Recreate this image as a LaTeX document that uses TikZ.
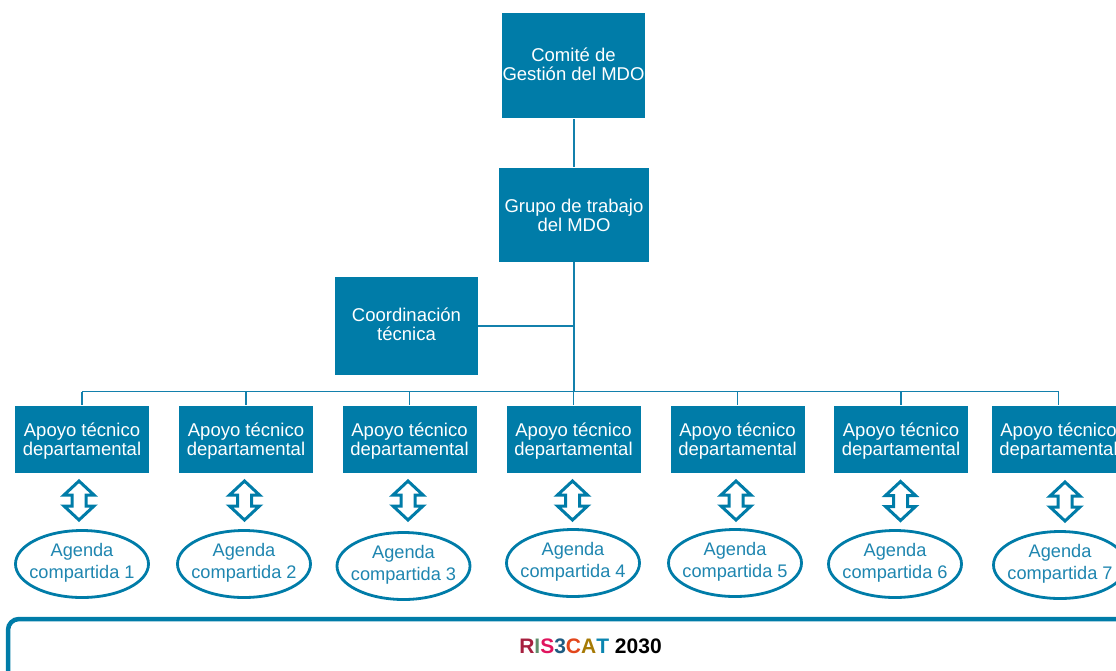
\documentclass[tikz,border=0pt]{standalone}
\usepackage{fontspec}
\setmainfont{Liberation Sans}
\usetikzlibrary{shapes.geometric,calc}
\definecolor{boxblue}{HTML}{007CA8}
\definecolor{lineblue}{HTML}{1380AC}
\definecolor{textblue}{HTML}{1F86B0}
\tikzset{
  bluebox/.style={fill=boxblue,text=white,inner sep=0pt,align=center,font=\fontsize{18.5}{19.3}\selectfont},
  agenda/.style={ellipse,draw=boxblue,line width=2.8pt,fill=white,text=textblue,inner ysep=0pt,inner xsep=-6pt,minimum width=133pt,minimum height=67pt,align=center,font=\fontsize{18.2}{22.4}\selectfont},
  twoway/.style={draw=boxblue,line width=3pt,fill=white,miter limit=10},
  trunk/.style={draw=lineblue,line width=2.6pt},
  branch/.style={draw=lineblue,line width=1.9pt}
}
\newcommand{\lift}{\rule[-6pt]{0pt}{0pt}}
\newcommand{\sink}{\rule{0pt}{16.5pt}}
\begin{document}
\begin{tikzpicture}[x=1pt,y=-1pt]
\useasboundingbox (0,0) rectangle (1116,670);
\clip (0,0) rectangle (1116,670);
\node[bluebox,minimum width=143pt,minimum height=105pt] (comite) at (573.5,65.5) {Comité de\\Gestión del MDO\rule[-2pt]{0pt}{0pt}};
\node[bluebox,minimum width=150pt,minimum height=94pt] (grupo) at (574,215) {\rule{0pt}{14.5pt}Grupo de trabajo\\del MDO};
\node[bluebox,minimum width=143pt,minimum height=98pt] (coord) at (406.5,326) {Coordinación\\técnica\rule[-3pt]{0pt}{0pt}};
\foreach \i/\x in {1/82,2/246,3/409.5,4/573.5,5/737.5,6/901,7/1058.5}
  \node[bluebox,minimum width=134pt,minimum height=67pt] (ap\i) at (\x,439.5) {\sink Apoyo técnico\\departamental};
\foreach \i/\x/\y in {1/82/564,2/244/564,3/403.5/566,4/573/563,5/735/563,6/895/564,7/1060/565}
  \node[agenda] (ag\i) at (\x,\y) {Agenda\\compartida \i\lift};
\foreach \i/\x/\y in {1/79/500.5,2/244.5/500.5,3/408/500.5,4/572.5/500.5,5/736/500.5,6/900.5/501,7/1065/501.5} {
  \coordinate (dbl\i) at (\x,\y);
  \draw[twoway] ($(dbl\i)+(0,-19.5)$) -- ($(dbl\i)+(15,-5.5)$) -- ($(dbl\i)+(7,-5.5)$) -- ($(dbl\i)+(7,5.5)$) -- ($(dbl\i)+(15,5.5)$) -- ($(dbl\i)+(0,19.5)$) -- ($(dbl\i)+(-15,5.5)$) -- ($(dbl\i)+(-7,5.5)$) -- ($(dbl\i)+(-7,-5.5)$) -- ($(dbl\i)+(-15,-5.5)$) -- cycle;
}
\coordinate (jcoord) at (574,326);
\coordinate (jmain) at (574,391.5);
\draw[trunk] ($(comite.south)+(0.5,1)$) -- ($(grupo.north)+(0,-1)$);
\draw[trunk] (grupo.south) -- (jmain);
\draw[branch] (coord.east) -- (jcoord);
\coordinate (jleft) at (82,391.5);
\coordinate (jright) at (1058.5,391.5);
\draw[branch] (jleft) -- (jright);
\foreach \i in {1,...,7}
  \draw[branch] (ap\i.north |- jmain) -- ($(ap\i.north)+(0,-1)$);
\draw[draw=boxblue,line width=4.5pt,rounded corners=11pt] (1200,619) -- (8,619) -- (8,720);
\node[inner sep=0pt,font=\fontsize{21}{24}\selectfont\bfseries] (ris) at (590.5,646) {\textcolor[HTML]{A6203F}{R}\textcolor[HTML]{5F8F6B}{I}\textcolor[HTML]{E0155E}{S}\textcolor[HTML]{1F5C82}{3}\textcolor[HTML]{E2461B}{C}\textcolor[HTML]{A67A05}{A}\textcolor[HTML]{0A85B0}{T} 2030};
\end{tikzpicture}
\end{document}
